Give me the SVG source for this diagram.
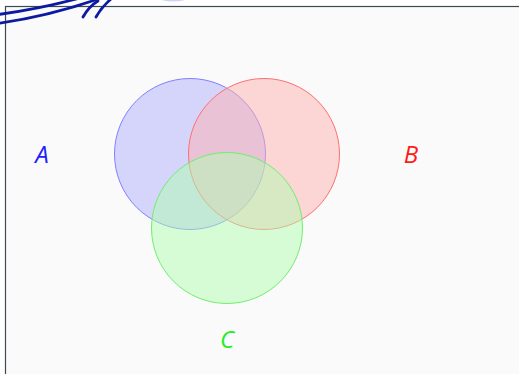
<svg xmlns="http://www.w3.org/2000/svg" width="519" height="374" viewBox="0 0 519 374">
  <style>
    .lbl { font-family: "Open Sans", "DejaVu Sans", sans-serif; font-style: italic; font-size: 24px; text-anchor: middle; }
    .set { stroke-width: 1; fill-opacity: 0.49; }
    .swash { fill: none; stroke: #0b1aa0; stroke-width: 2.8; stroke-linecap: round; }
  </style>
  <rect width="519" height="374" fill="#ffffff"/>
  <!-- plot frame -->
  <rect x="5.5" y="6.5" width="520" height="380" fill="#fafafa" stroke="#3c4a50" stroke-width="1.2"/>
  <!-- decorative strokes at the top-left corner -->
  <g id="corner-mark">
    <ellipse cx="173" cy="-2" rx="14" ry="3.5" fill="#c8c8f0" opacity="0.8"/>
    <path class="swash" d="M-2,14.5 C25,11 50,6 80,-2"/>
    <path class="swash" d="M-2,23.5 C35,18 70,9 101,-2"/>
    <path class="swash" d="M83,17 C87,10 91,5 98,1"/>
    <path class="swash" d="M96,17 C100,10 104,5 111,-1"/>
  </g>
  <g id="set-A">
    <circle class="set" cx="190" cy="154" r="75.5" fill="#b0b0ff" stroke="#8080ff"/>
    <text class="lbl" x="42" y="163" fill="#2020ff">A</text>
  </g>
  <g id="set-B">
    <circle class="set" cx="264" cy="154" r="75.5" fill="#ffb0b0" stroke="#ff7070"/>
    <text class="lbl" x="411" y="163" fill="#ff1a1a">B</text>
  </g>
  <g id="set-C">
    <circle class="set" cx="227" cy="228" r="75.5" fill="#b0ffb0" stroke="#70ee70"/>
    <text class="lbl" x="227" y="348" fill="#22ee22">C</text>
  </g>
</svg>
